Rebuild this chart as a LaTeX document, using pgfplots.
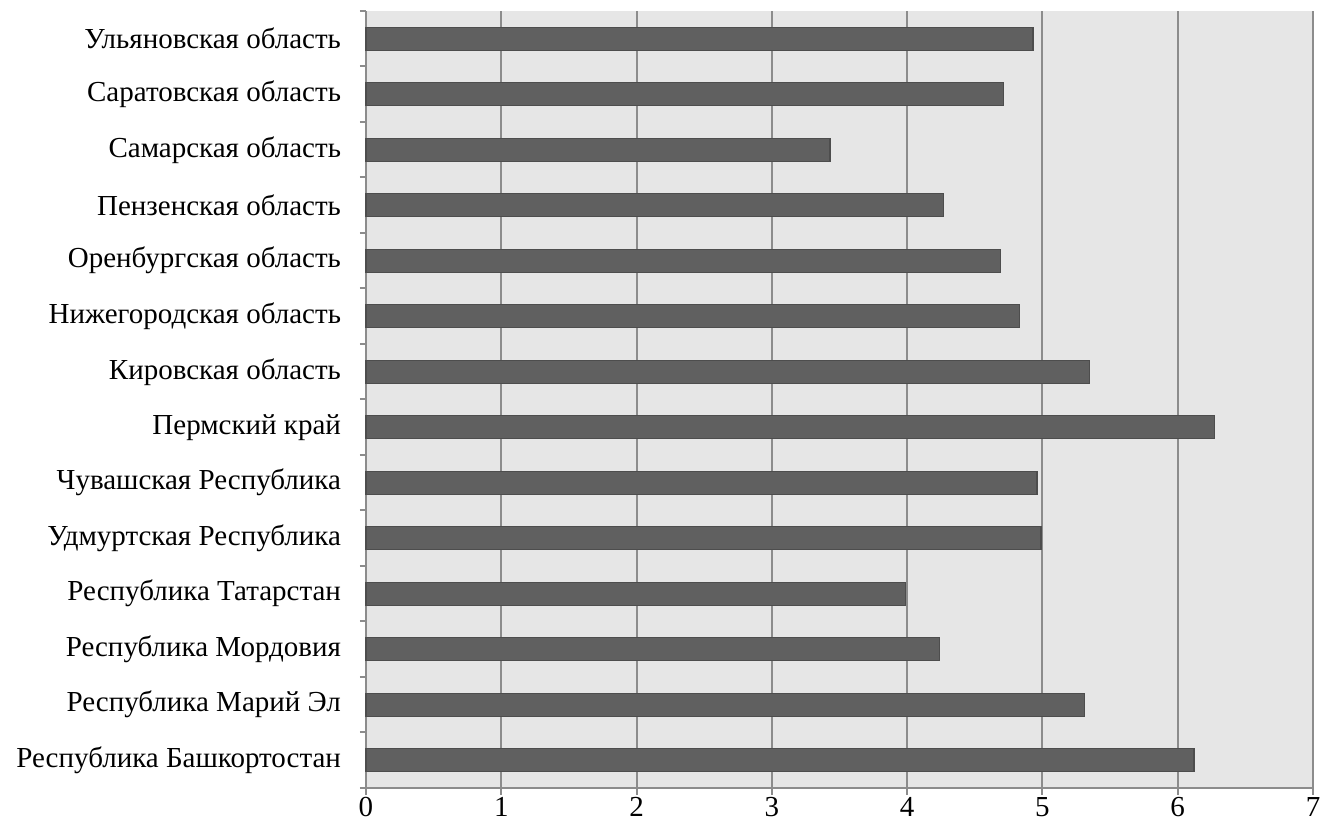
\documentclass[border=0pt]{standalone}
\usepackage{pgfplots}
\pgfplotsset{compat=1.18}
\usepackage{fontspec}
\setmainfont{Liberation Serif}
\definecolor{bgc}{HTML}{E6E6E6}
\definecolor{gridc}{HTML}{8C8C8C}
\definecolor{barc}{HTML}{606060}
\definecolor{barl}{HTML}{4D4D4D}
\begin{document}
\fontsize{14.5pt}{17pt}\selectfont
\begin{tikzpicture}
\useasboundingbox (-183pt,-22.5pt) rectangle (477.5pt,394pt);
\begin{axis}[
  at={(0,0)}, anchor=south west,
  scale only axis, width=473.5pt, height=388.5pt,
  xmin=0, xmax=7, ymin=-0.5, ymax=13.5,
  axis x line=bottom, axis y line=left,
  axis line style={gridc, line width=1pt, -},
  axis background/.style={fill=bgc},
  xtick={0,...,7},
  xmajorgrids, major grid style={gridc, line width=1pt},
  x tick style={gridc, line width=1pt}, major tick length=3.5pt,
  tick align=outside,
  ytick={0,...,13},
  y tick style={draw=none},
  minor ytick={-0.5,0.5,...,13.5},
  minor y tick style={gridc, line width=1pt, draw=gridc},
  minor tick length=3pt,
  yticklabels={Республика Башкортостан,Республика Марий Эл,Республика Мордовия,Республика Татарстан,Удмуртская Республика,Чувашская Республика,Пермский край,Кировская область,Нижегородская область,Оренбургская область,Пензенская область,Самарская область,Саратовская область,Ульяновская область},
  yticklabel style={font=\fontsize{14.5pt}{17pt}\selectfont, xshift=-4pt},
  xticklabel style={font=\fontsize{14.5pt}{17pt}\selectfont, yshift=4pt},
  /pgf/number format/assume math mode=true,
  xbar, bar width=11.5pt,
  clip=false,
]
\addplot[fill=barc, draw=barl, line width=0.6pt] coordinates {
(6.12,0) (5.31,1) (4.24,2) (3.99,3) (4.99,4) (4.96,5) (6.27,6)
(5.35,7) (4.83,8) (4.69,9) (4.27,10) (3.43,11) (4.71,12) (4.93,13)};
\end{axis}
\end{tikzpicture}
\end{document}
